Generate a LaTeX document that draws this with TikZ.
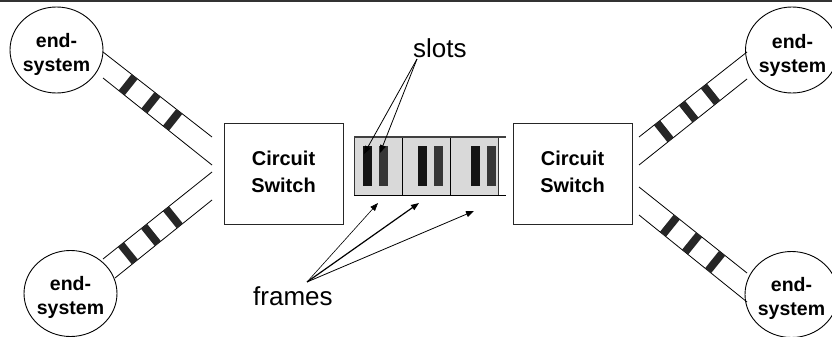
\documentclass[tikz,border=0pt]{standalone}
\usepackage{fontspec}
\setmainfont{Liberation Sans}
\usetikzlibrary{calc,arrows.meta,shapes.geometric}
\definecolor{bardark}{HTML}{262626}
\definecolor{framefill}{HTML}{D9D9D9}
\definecolor{slotA}{HTML}{141414}
\definecolor{slotB}{HTML}{363636}
\definecolor{topband}{HTML}{333333}
\begin{document}
\begin{tikzpicture}[x=1pt,y=-1pt,
  endsys/.style={draw=black, line width=0.9pt, ellipse, minimum width=93pt, minimum height=86pt, inner sep=0pt},
  estext/.style={font=\fontsize{19.5}{24}\selectfont\bfseries, align=center, inner sep=0pt},
  switchbox/.style={draw=black!85, line width=1pt, minimum width=119pt, minimum height=101pt, inner sep=0pt},
  swtext/.style={font=\fontsize{20}{27}\selectfont\bfseries, align=center, inner sep=0pt},
  wire/.style={line width=0.8pt},
  linkbar/.style={line width=7.8pt, draw=bardark},
  lbl/.style={font=\fontsize{26}{30}\selectfont, inner sep=0pt, anchor=base west},
  ptr/.style={-{Triangle[length=8pt,width=6pt]}, line width=0.8pt},
  framebox/.style={fill=framefill, draw=black!80, line width=0.8pt},
]
\useasboundingbox (0,0) rectangle (832,337);
\clip (0,0) rectangle (832,337);
\fill[topband] (0,0) rectangle (832,2.5);

% end-systems
\node[endsys] (es1) at (56.5,50) {};
\node[estext] (es1t) at (56.5,54.5) {end-\\system};
\node[endsys] (es2) at (70.5,293.5) {};
\node[estext] (es2t) at (70.5,297.5) {end-\\system};
\node[endsys] (es3) at (792,50) {};
\node[estext] (es3t) at (792.5,55) {end-\\system};
\node[endsys] (es4) at (791.5,294.5) {};
\node[estext] (es4t) at (791.5,298) {end-\\system};

% circuit switches
\node[switchbox] (cs1) at (283.5,173.5) {};
\node[swtext] (cs1t) at (283.5,171.5) {Circuit\\Switch};
\node[switchbox] (cs2) at (572.5,173.5) {};
\node[swtext] (cs2t) at (572.5,171.5) {Circuit\\Switch};

% link endpoints
\coordinate (tlA1) at (103,52);  \coordinate (tlB1) at (212,137);
\coordinate (tlA2) at (103,78);  \coordinate (tlB2) at (212,165);
\coordinate (blA1) at (103,259); \coordinate (blB1) at (212,172);
\coordinate (blA2) at (115,278); \coordinate (blB2) at (212,200);
\coordinate (trA1) at (639,137); \coordinate (trB1) at (747,52);
\coordinate (trA2) at (639,165); \coordinate (trB2) at (747,79);
\coordinate (brA1) at (639,187); \coordinate (brB1) at (747,273);
\coordinate (brA2) at (639,215); \coordinate (brB2) at (747,302);

\foreach \l in {tl,bl,tr,br}{
  \draw[wire] (\l A1) -- (\l B1);
  \draw[wire] (\l A2) -- (\l B2);
}
% bars across the links
\foreach \l/\ts in {tl/{0.29,0.50,0.70}, bl/{0.165,0.376,0.578}, tr/{0.167,0.398,0.60}, br/{0.35,0.556,0.77}}{
  \foreach \t in \ts {
    \coordinate (p) at ($(\l A1)!\t!(\l B1)$);
    \draw[linkbar] (p) -- ($(\l A2)!(p)!(\l B2)$);
  }
}

% frames
\draw[framebox] (354,137) rectangle (498,195);
\draw[line width=0.8pt] (402,137) -- (402,195);
\draw[line width=0.8pt] (450,137) -- (450,195);
\draw[line width=1.4pt, draw=black!75] (354,137) -- (506,137);
\draw[line width=0.9pt] (354,195) -- (506,195);
\foreach \x/\c in {363/slotA,379/slotB,418/slotA,434/slotB,471/slotA,487/slotB}{
  \fill[\c] (\x,146) rectangle ++(8.5,40);
}

% labels and pointers
\node[lbl] (slots) at (413,57) {slots};
\coordinate (slsrc) at (417,59);
\coordinate (slt1) at (364,154);
\coordinate (slt2) at (380,153);
\draw[ptr] (slsrc) -- (slt1);
\draw[ptr] (slsrc) -- (slt2);

\node[lbl] (frames) at (253,305) {frames};
\coordinate (frsrc) at (307,282);
\coordinate (frt1) at (378,203);
\coordinate (frt2) at (419,203);
\coordinate (frt3) at (474,211);
\draw[ptr, line width=0.6pt] (frsrc) -- (frt1);
\draw[ptr, line width=1.2pt] (frsrc) -- (frt2);
\draw[ptr, line width=0.8pt] (frsrc) -- (frt3);
\end{tikzpicture}
\end{document}
